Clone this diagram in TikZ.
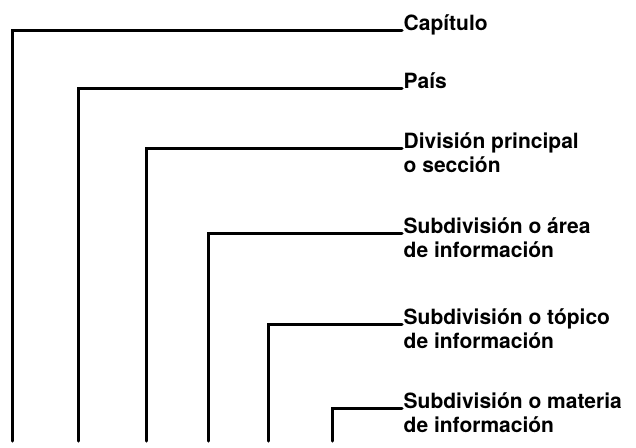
\documentclass[tikz,border=0pt]{standalone}
\usepackage{fontspec}
\setmainfont{TeX Gyre Heros}
\newcommand\twol[2]{\vtop{\hbox{#1}\hbox{#2}}}
\begin{document}
\begin{tikzpicture}[x=1pt,y=-1pt,
  lbl/.style={anchor=base west,inner xsep=1.5pt,inner ysep=0pt,font=\fontsize{21}{24.5}\selectfont\bfseries},
  brk/.style={line width=3pt,line cap=round,line join=miter}]
\useasboundingbox (0,0) rectangle (636,447);
\node[lbl] (l1) at (402,30) {Capítulo};
\node[lbl] (l2) at (402,88) {País};
\node[lbl] (l3) at (402,148) {\twol{División principal}{o sección}};
\node[lbl] (l4) at (402,233) {\twol{Subdivisión o área}{de información}};
\node[lbl] (l5) at (402,324) {\twol{Subdivisión o tópico}{de información}};
\node[lbl] (l6) at (402,408) {\twol{Subdivisión o materia}{de información}};
\coordinate (b1) at (12,441);
\coordinate (b2) at (78,441);
\coordinate (b3) at (146,441);
\coordinate (b4) at (208,441);
\coordinate (b5) at (268,441);
\coordinate (b6) at (332,441);
\draw[brk] (l1.base west) -| (b1);
\draw[brk] (l2.base west) -| (b2);
\draw[brk] (l3.base west) -| (b3);
\draw[brk] (l4.base west) -| (b4);
\draw[brk] (l5.base west) -| (b5);
\draw[brk] (l6.base west) -| (b6);
\end{tikzpicture}
\end{document}
